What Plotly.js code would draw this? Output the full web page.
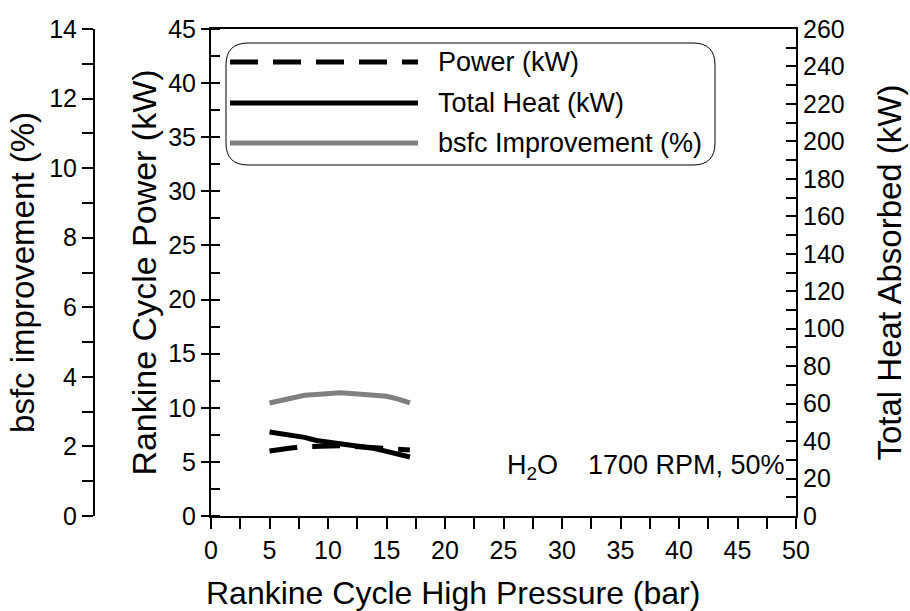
<!DOCTYPE html>
<html>
<head>
<meta charset="utf-8">
<script src="https://cdn.plot.ly/plotly-3.0.1.min.js"></script>
<style>html,body{margin:0;padding:0;background:#fff;}#chart{width:910px;height:611px;}</style>
</head>
<body>
<div id="chart"></div>
<script>
// ---- data ----
var pressureBar = [5, 6, 7, 8, 9, 10, 11, 12, 13, 14, 15, 16, 17];
var powerKW = [6.0, 6.2, 6.3, 6.4, 6.45, 6.5, 6.5, 6.45, 6.4, 6.35, 6.3, 6.2, 6.1];
var totalHeatKW = [44.8, 44.0, 43.3, 42.0, 40.3, 39.5, 39.0, 38.0, 37.0, 36.0, 34.5, 33.0, 31.5];
var bsfcImprovementPct = [3.25, 3.33, 3.40, 3.47, 3.49, 3.52, 3.54, 3.52, 3.50, 3.48, 3.44, 3.36, 3.25];
var seriesNames = ["Power (kW)", "Total Heat (kW)", "bsfc Improvement (%)"];
var noteText = "H<sub>2</sub>O    1700 RPM, 50%";
var xTitle = "Rankine Cycle High Pressure (bar)";

// ---- geometry helpers (pixel -> paper) ----
var W = 910, H = 611, ML = 60, MR = 60, MT = 29, MB = 95;
var PW = W - ML - MR, PH = H - MT - MB;
function px(x) { return (x - ML) / PW; }
function py(y) { return (H - MB - y) / PH; }

var FONT = "Liberation Sans, Arial, sans-serif";
var dashPat = "28px,15px";

var traces = [
  { x: pressureBar, y: powerKW, name: seriesNames[0], type: "scatter", mode: "lines",
    yaxis: "y", line: { color: "#000", width: 5, dash: dashPat } },
  { x: pressureBar, y: totalHeatKW, name: seriesNames[1], type: "scatter", mode: "lines",
    yaxis: "y3", line: { color: "#000", width: 5 } },
  { x: pressureBar, y: bsfcImprovementPct, name: seriesNames[2], type: "scatter", mode: "lines",
    yaxis: "y2", line: { color: "#808080", width: 5 } }
];

// legend (drawn manually to match the long line samples and rounded box)
var bx0 = px(226), bx1 = px(715), by0 = py(165), by1 = py(43);
var rx = 22 / PW, ry = 22 / PH;
var boxPath = "M " + (bx0 + rx) + " " + by1 +
  " L " + (bx1 - rx) + " " + by1 +
  " Q " + bx1 + " " + by1 + " " + bx1 + " " + (by1 - ry) +
  " L " + bx1 + " " + (by0 + ry) +
  " Q " + bx1 + " " + by0 + " " + (bx1 - rx) + " " + by0 +
  " L " + (bx0 + rx) + " " + by0 +
  " Q " + bx0 + " " + by0 + " " + bx0 + " " + (by0 + ry) +
  " L " + bx0 + " " + (by1 - ry) +
  " Q " + bx0 + " " + by1 + " " + (bx0 + rx) + " " + by1 + " Z";

var legY = [62, 103, 143];
var legStyles = [
  { color: "#000", width: 5, dash: dashPat },
  { color: "#000", width: 5, dash: "solid" },
  { color: "#808080", width: 5, dash: "solid" }
];
var shapes = [
  { type: "path", xref: "paper", yref: "paper", path: boxPath,
    line: { color: "#000", width: 1 }, fillcolor: "rgba(255,255,255,0)", layer: "above" }
];
var annotations = [];
for (var i = 0; i < 3; i++) {
  shapes.push({ type: "line", xref: "paper", yref: "paper",
    x0: px(230), x1: px(418), y0: py(legY[i]), y1: py(legY[i]), line: legStyles[i] });
  annotations.push({ xref: "paper", yref: "paper", x: px(436), y: py(legY[i]),
    xanchor: "left", yanchor: "middle", showarrow: false, text: seriesNames[i],
    font: { family: FONT, size: 27, color: "#000" } });
}
annotations.push({ xref: "paper", yref: "paper", x: px(787), y: py(467),
  xanchor: "right", yanchor: "middle", showarrow: false, text: noteText,
  font: { family: FONT, size: 27, color: "#000" } });
// x-axis title (offset to the left like the reference)
annotations.push({ xref: "paper", yref: "paper", x: px(453), y: py(593),
  xanchor: "center", yanchor: "middle", showarrow: false, text: xTitle,
  font: { family: FONT, size: 32, color: "#000" } });

var tickFont = { family: FONT, size: 25, color: "#000" };

var layout = {
  width: W, height: H,
  margin: { l: ML, r: MR, t: MT, b: MB, pad: 0 },
  paper_bgcolor: "#fff", plot_bgcolor: "#fff",
  showlegend: false,
  font: { family: FONT, color: "#000" },
  xaxis: {
    domain: [px(211), px(796)], range: [0, 50], dtick: 5, tick0: 0,
    showgrid: false, zeroline: false, showline: true, linecolor: "#000", linewidth: 2, mirror: true,
    ticks: "outside", ticklen: 11, tickwidth: 2, tickcolor: "#000",
    minor: { dtick: 2.5, ticks: "outside", ticklen: 11, tickwidth: 2, tickcolor: "#000" },
    tickfont: tickFont, automargin: false
  },
  yaxis: {
    range: [0, 45], dtick: 5, tick0: 0, anchor: "x", side: "left",
    showgrid: false, zeroline: false, showline: true, linecolor: "#000", linewidth: 2,
    ticks: "outside", ticklen: 8, tickwidth: 2, tickcolor: "#000",
    minor: { dtick: 2.5, ticks: "inside", ticklen: 9, tickwidth: 2, tickcolor: "#000" },
    tickfont: tickFont, automargin: false,
    title: { text: "Rankine Cycle Power (kW)", font: { family: FONT, size: 34, color: "#000" }, standoff: 1 }
  },
  yaxis2: {
    range: [0, 14], dtick: 2, tick0: 0, overlaying: "y", side: "left", anchor: "free", position: px(94),
    showgrid: false, zeroline: false, showline: true, linecolor: "#000", linewidth: 2,
    ticks: "outside", ticklen: 11, tickwidth: 2, tickcolor: "#000",
    minor: { dtick: 1, ticks: "outside", ticklen: 11, tickwidth: 2, tickcolor: "#000" },
    tickfont: tickFont, automargin: false,
    title: { text: "bsfc improvement (%)", font: { family: FONT, size: 33, color: "#000" }, standoff: 4 }
  },
  yaxis3: {
    range: [0, 260], dtick: 20, tick0: 0, overlaying: "y", side: "right", anchor: "x",
    showgrid: false, zeroline: false, showline: true, linecolor: "#000", linewidth: 2,
    ticks: "inside", ticklen: 10, tickwidth: 2, tickcolor: "#000",
    minor: { dtick: 10, ticks: "inside", ticklen: 10, tickwidth: 2, tickcolor: "#000" },
    tickfont: tickFont, automargin: false,
    title: { text: "Total Heat Absorbed (kW)", font: { family: FONT, size: 33, color: "#000" }, standoff: 34 }
  },
  shapes: shapes,
  annotations: annotations
};

Plotly.newPlot("chart", traces, layout, { staticPlot: true, displayModeBar: false });
</script>
</body>
</html>
